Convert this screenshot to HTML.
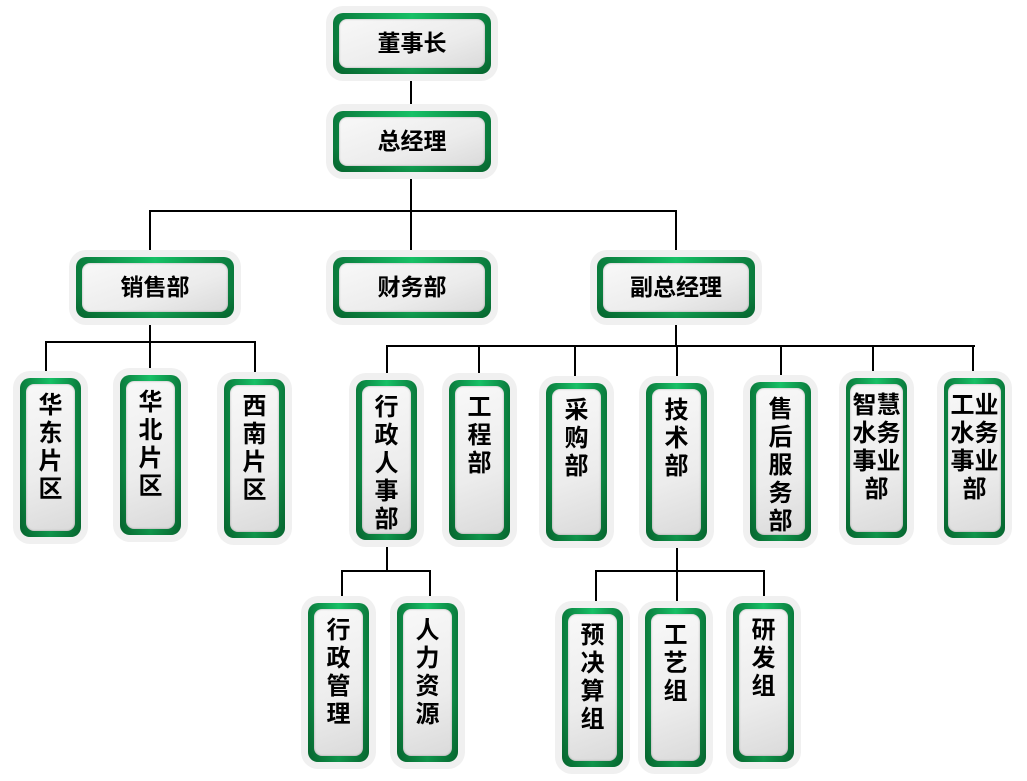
<!DOCTYPE html>
<html><head><meta charset="utf-8"><style>
body{margin:0;width:1027px;height:781px;background:#fff;position:relative;overflow:hidden;font-family:"Liberation Sans","Noto Sans CJK SC",sans-serif}
.b{position:absolute;box-sizing:border-box;border-radius:10px;background:linear-gradient(90deg,#0a7a3c,#17c066 50%,#0a7a3c);box-shadow:0 0 0 7px #f0f0f0}
.b::before{content:"";position:absolute;left:0;right:0;top:0;bottom:0;border-radius:10px;background:linear-gradient(180deg,rgba(0,0,0,0) 60%,rgba(0,60,20,.35))}
.b .i{position:absolute;left:6px;right:6px;top:6px;bottom:6px;border-radius:8px;background:linear-gradient(160deg,#f8f8f8,#ececec 60%,#dadada);z-index:1;box-shadow:0 0 2px rgba(0,0,0,.3) inset;text-align:center;font-weight:bold;color:#000}
.h .i{font-size:23px;line-height:49px}
.v .i{font-size:24px;line-height:28px;padding-top:8px;box-sizing:border-box;word-break:break-all}
.l{position:absolute;background:#000}
</style></head><body>
<div class="l" style="left:410px;top:73px;width:2px;height:38px"></div>
<div class="l" style="left:410px;top:172px;width:2px;height:85px"></div>
<div class="l" style="left:149px;top:210px;width:528px;height:2px"></div>
<div class="l" style="left:149px;top:210px;width:2px;height:47px"></div>
<div class="l" style="left:675px;top:210px;width:2px;height:47px"></div>
<div class="l" style="left:149px;top:318px;width:2px;height:24px"></div>
<div class="l" style="left:45px;top:341px;width:211px;height:2px"></div>
<div class="l" style="left:45px;top:341px;width:2px;height:36px"></div>
<div class="l" style="left:149px;top:341px;width:2px;height:36px"></div>
<div class="l" style="left:254px;top:341px;width:2px;height:36px"></div>
<div class="l" style="left:675px;top:318px;width:2px;height:28px"></div>
<div class="l" style="left:386px;top:345px;width:589px;height:2px"></div>
<div class="l" style="left:386px;top:345px;width:2px;height:36px"></div>
<div class="l" style="left:478px;top:345px;width:2px;height:36px"></div>
<div class="l" style="left:574px;top:345px;width:2px;height:36px"></div>
<div class="l" style="left:676px;top:345px;width:2px;height:36px"></div>
<div class="l" style="left:780px;top:345px;width:2px;height:36px"></div>
<div class="l" style="left:872px;top:345px;width:2px;height:36px"></div>
<div class="l" style="left:972px;top:345px;width:2px;height:36px"></div>
<div class="l" style="left:386px;top:540px;width:2px;height:31px"></div>
<div class="l" style="left:341px;top:570px;width:90px;height:2px"></div>
<div class="l" style="left:341px;top:570px;width:2px;height:33px"></div>
<div class="l" style="left:429px;top:570px;width:2px;height:33px"></div>
<div class="l" style="left:676px;top:540px;width:2px;height:68px"></div>
<div class="l" style="left:595px;top:570px;width:170px;height:2px"></div>
<div class="l" style="left:595px;top:570px;width:2px;height:38px"></div>
<div class="l" style="left:763px;top:570px;width:2px;height:33px"></div>
<div class="b h" style="left:333px;top:13px;width:158px;height:61px"><div class="i">董事长</div></div>
<div class="b h" style="left:333px;top:111px;width:158px;height:61px"><div class="i">总经理</div></div>
<div class="b h" style="left:76px;top:257px;width:158px;height:61px"><div class="i">销售部</div></div>
<div class="b h" style="left:333px;top:257px;width:158px;height:61px"><div class="i">财务部</div></div>
<div class="b h" style="left:597px;top:257px;width:158px;height:61px"><div class="i">副总经理</div></div>
<div class="b v" style="left:20px;top:378px;width:61px;height:159px"><div class="i">华<br>东<br>片<br>区</div></div>
<div class="b v" style="left:120px;top:375px;width:61px;height:160px"><div class="i">华<br>北<br>片<br>区</div></div>
<div class="b v" style="left:224px;top:379px;width:61px;height:159px"><div class="i">西<br>南<br>片<br>区</div></div>
<div class="b v" style="left:356px;top:380px;width:61px;height:160px"><div class="i">行<br>政<br>人<br>事<br>部</div></div>
<div class="b v" style="left:449px;top:380px;width:61px;height:160px"><div class="i">工<br>程<br>部</div></div>
<div class="b v" style="left:546px;top:383px;width:61px;height:158px"><div class="i">采<br>购<br>部</div></div>
<div class="b v" style="left:646px;top:383px;width:61px;height:158px"><div class="i">技<br>术<br>部</div></div>
<div class="b v" style="left:750px;top:382px;width:61px;height:159px"><div class="i">售<br>后<br>服<br>务<br>部</div></div>
<div class="b v" style="left:846px;top:378px;width:61px;height:160px"><div class="i" style="left:4px;right:4px">智慧<br>水务<br>事业<br>部</div></div>
<div class="b v" style="left:944px;top:378px;width:61px;height:160px"><div class="i" style="left:4px;right:4px">工业<br>水务<br>事业<br>部</div></div>
<div class="b v" style="left:308px;top:603px;width:61px;height:159px"><div class="i">行<br>政<br>管<br>理</div></div>
<div class="b v" style="left:397px;top:603px;width:61px;height:159px"><div class="i">人<br>力<br>资<br>源</div></div>
<div class="b v" style="left:562px;top:608px;width:61px;height:159px"><div class="i">预<br>决<br>算<br>组</div></div>
<div class="b v" style="left:645px;top:608px;width:61px;height:159px"><div class="i">工<br>艺<br>组</div></div>
<div class="b v" style="left:733px;top:603px;width:61px;height:159px"><div class="i">研<br>发<br>组</div></div>
</body></html>
